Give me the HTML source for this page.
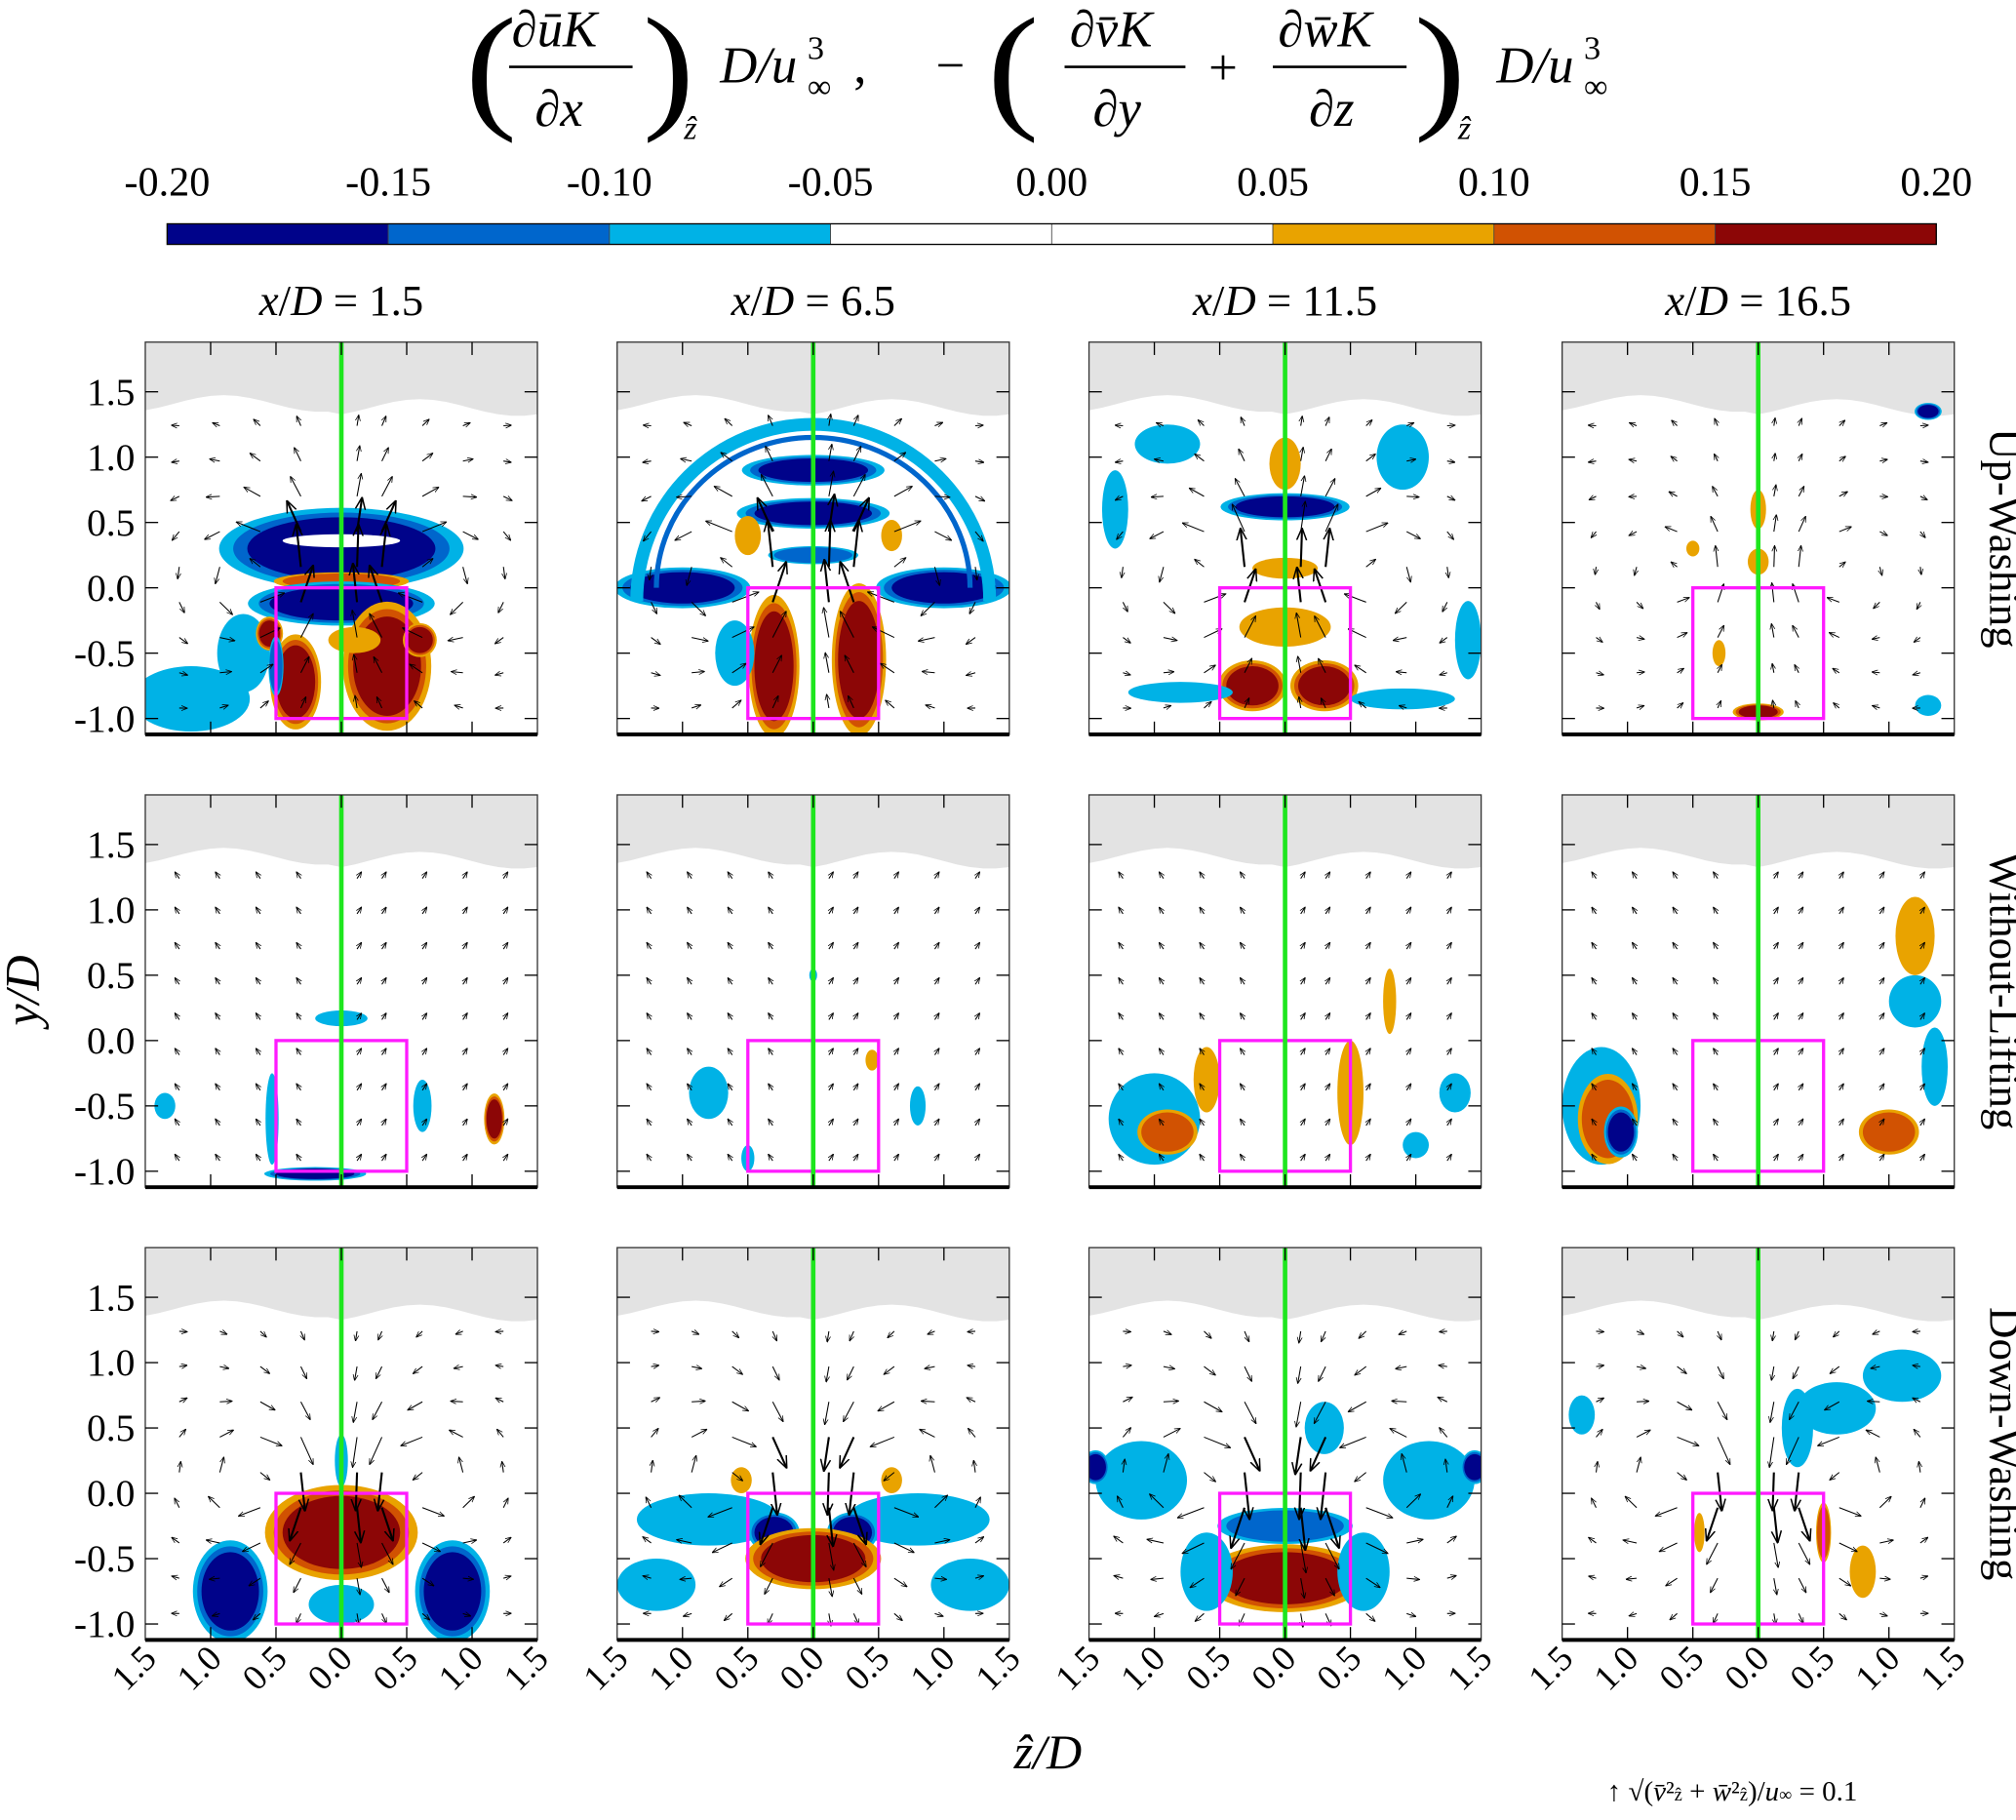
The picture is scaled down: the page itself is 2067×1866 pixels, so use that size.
<!DOCTYPE html>
<html><head><meta charset="utf-8"><style>
html,body{margin:0;padding:0;background:#fff;}
svg{display:block;font-family:"Liberation Serif",serif;}
</style></head><body>
<svg id="fig" width="2067" height="1866" viewBox="0 0 1568 1415" preserveAspectRatio="none" xmlns="http://www.w3.org/2000/svg">
<defs>
<marker id="ah" viewBox="0 0 10 10" refX="9" refY="5" markerWidth="6" markerHeight="6" orient="auto"><path d="M0,1 L10,5 L0,9" fill="none" stroke="#000" stroke-width="1.2"/></marker>
</defs>
<g font-style="italic" font-size="40">
 <text x="362" y="98" font-size="120" font-style="normal" transform="scale(1,0.9)">(</text>
 <text x="398" y="36">∂ūK</text>
 <line x1="396" y1="52" x2="492" y2="52" stroke="#000" stroke-width="2"/>
 <text x="416" y="98">∂x</text>
 <text x="500" y="98" font-size="120" font-style="normal" transform="scale(1,0.9)">)</text>
 <text x="532" y="108" font-size="26">ẑ</text>
 <text x="560" y="64">D/u</text><text x="628" y="46" font-size="26" font-style="normal">3</text><text x="628" y="76" font-size="26" font-style="normal">∞</text><text x="664" y="64" font-style="normal">,</text>
 <text x="728" y="64" font-style="normal">−</text>
 <text x="768" y="98" font-size="120" font-style="normal" transform="scale(1,0.9)">(</text>
 <text x="832" y="36">∂v̄K</text>
 <line x1="828" y1="52" x2="922" y2="52" stroke="#000" stroke-width="2"/>
 <text x="850" y="98">∂y</text>
 <text x="940" y="66" font-style="normal">+</text>
 <text x="994" y="36">∂w̄K</text>
 <line x1="990" y1="52" x2="1094" y2="52" stroke="#000" stroke-width="2"/>
 <text x="1018" y="98">∂z</text>
 <text x="1100" y="98" font-size="120" font-style="normal" transform="scale(1,0.9)">)</text>
 <text x="1134" y="108" font-size="26">ẑ</text>
 <text x="1164" y="64">D/u</text><text x="1232" y="46" font-size="26" font-style="normal">3</text><text x="1232" y="76" font-size="26" font-style="normal">∞</text>
</g>
<g id="cbar"></g>
<g id="panels"></g>
<g id="labels"></g>
</svg>
<script>
const NS="http://www.w3.org/2000/svg";
const svg=document.getElementById('fig');
function el(tag,attrs,parent){const e=document.createElementNS(NS,tag);for(const k in attrs)e.setAttribute(k,attrs[k]);(parent||svg).appendChild(e);return e;}

const cbTicks=["-0.20","-0.15","-0.10","-0.05","0.00","0.05","0.10","0.15","0.20"];
const cbColors=["#00038a","#0066cc","#00b2e6","#ffffff","#ffffff","#e9a300","#d15202","#8c0606"];
const negC=["#00b2e6","#0066cc","#00038a"], posC=["#e9a300","#d15202","#8c0606"];
const cb=document.getElementById('cbar');
const cbX0=130,cbX1=1506,cbW=(cbX1-cbX0)/8;
cbColors.forEach((c,i)=>{const r=el('rect',{x:cbX0+i*cbW,y:174,width:cbW,height:16,fill:c,stroke:'#444','stroke-width':0.6},cb);
});
el('rect',{x:cbX0,y:174,width:cbX1-cbX0,height:16,fill:'none',stroke:'#000','stroke-width':1},cb);
cbTicks.forEach((t,i)=>{const tx=el('text',{x:cbX0+i*cbW,y:152,'font-size':32,'text-anchor':'middle'},cb);tx.textContent=t;
});

const colTitles=["1.5","6.5","11.5","16.5"];
const rowTitles=["Up-Washing","Without-Lifting","Down-Washing"];
const X0=[113,480,847,1215], Y0=[266,618,970], W=305, H=305;
const yTicks=[-1.0,-0.5,0.0,0.5,1.0,1.5];
const zTicks=[-1.5,-1.0,-0.5,0.0,0.5,1.0,1.5];
const blobs=[
 [[-1.15,-0.85,0.45,0.25,-1,1],[-0.75,-0.5,0.2,0.3,-1,1],[0,0.3,0.72,0.24,-1,3],[0,0.36,0.45,0.05,-1,0],[0,0.05,0.45,0.06,1,2],[0,-0.12,0.55,0.13,-1,3],
  [-0.35,-0.72,0.15,0.28,1,3],[-0.55,-0.35,0.08,0.1,1,3],[0.35,-0.6,0.26,0.38,1,3],[0.6,-0.4,0.1,0.1,1,3],[0.1,-0.4,0.2,0.1,1,1],[-0.5,-0.6,0.05,0.2,-1,2]],
 [[0,0.9,0.42,0.09,-1,3],[0,0.57,0.45,0.09,-1,3],[0,0.25,0.3,0.06,-1,2],[-1.0,0,0.4,0.12,-1,3],[1.0,0,0.4,0.12,-1,3],
  [-0.3,-0.6,0.15,0.42,1,3],[0.35,-0.55,0.16,0.45,1,3],[-0.5,0.4,0.1,0.15,1,1],[0.6,0.4,0.08,0.12,1,1],[-0.6,-0.5,0.15,0.25,-1,1]],
 [[0,0.62,0.38,0.08,-1,3],[0,0.95,0.12,0.2,1,1],[-0.9,1.1,0.25,0.15,-1,1],[0.9,1.0,0.2,0.25,-1,1],[1.4,-0.4,0.1,0.3,-1,1],
  [-1.3,0.6,0.1,0.3,-1,1],[-0.25,-0.75,0.2,0.15,1,3],[0.3,-0.75,0.2,0.15,1,3],[0,-0.3,0.35,0.15,1,1],[-0.8,-0.8,0.4,0.08,-1,1],[0.9,-0.85,0.4,0.08,-1,1],[0,0.15,0.25,0.08,1,1]],
 [[0,-0.95,0.15,0.05,1,3],[0,0.6,0.06,0.15,1,1],[0,0.2,0.08,0.1,1,1],[-0.3,-0.5,0.05,0.1,1,1],[1.3,-0.9,0.1,0.08,-1,1],[-0.5,0.3,0.05,0.06,1,1],[1.3,1.35,0.08,0.05,-1,3]],
 [[0,0.17,0.2,0.06,-1,1],[-0.53,-0.6,0.05,0.35,-1,1],[0.62,-0.5,0.07,0.2,-1,1],[-0.2,-1.02,0.3,0.04,-1,3],[1.17,-0.6,0.06,0.15,1,3],[-1.35,-0.5,0.08,0.1,-1,1]],
 [[-0.8,-0.4,0.15,0.2,-1,1],[0.8,-0.5,0.06,0.15,-1,1],[-0.5,-0.9,0.05,0.1,-1,1],[0.45,-0.15,0.05,0.08,1,1],[0,0.5,0.03,0.05,-1,1]],
 [[-1.0,-0.6,0.35,0.35,-1,1],[-0.9,-0.7,0.2,0.15,1,2],[-0.6,-0.3,0.1,0.25,1,1],[0.5,-0.4,0.1,0.4,1,1],[1.3,-0.4,0.12,0.15,-1,1],[0.8,0.3,0.05,0.25,1,1],[1.0,-0.8,0.1,0.1,-1,1]],
 [[-1.2,-0.5,0.3,0.45,-1,1],[-1.15,-0.6,0.2,0.3,1,2],[-1.05,-0.7,0.1,0.15,-1,3],[1.2,0.3,0.2,0.2,-1,1],[1.0,-0.7,0.2,0.15,1,2],[1.35,-0.2,0.1,0.3,-1,1],[1.2,0.8,0.15,0.3,1,1]],
 [[-0.85,-0.75,0.22,0.3,-1,3],[0.85,-0.75,0.22,0.3,-1,3],[0,-0.3,0.45,0.28,1,3],[0,0.25,0.05,0.2,-1,1],[0,-0.85,0.25,0.15,-1,1]],
 [[-0.8,-0.2,0.55,0.2,-1,1],[0.8,-0.2,0.55,0.2,-1,1],[-0.3,-0.3,0.15,0.12,-1,3],[0.3,-0.3,0.15,0.12,-1,3],[0,-0.5,0.4,0.18,1,3],[-1.2,-0.7,0.3,0.2,-1,1],[1.2,-0.7,0.3,0.2,-1,1],[-0.55,0.1,0.08,0.1,1,1],[0.6,0.1,0.08,0.1,1,1]],
 [[-1.1,0.1,0.35,0.3,-1,1],[1.1,0.1,0.35,0.3,-1,1],[-1.45,0.2,0.08,0.1,-1,3],[1.45,0.2,0.08,0.1,-1,3],[0,-0.25,0.45,0.12,-1,2],[0,-0.65,0.48,0.2,1,3],[-0.6,-0.6,0.2,0.3,-1,1],[0.6,-0.6,0.2,0.3,-1,1],[0.3,0.5,0.15,0.2,-1,1]],
 [[0.6,0.65,0.3,0.2,-1,1],[1.1,0.9,0.3,0.2,-1,1],[0.3,0.5,0.12,0.3,-1,1],[-0.45,-0.3,0.04,0.15,1,1],[0.5,-0.3,0.05,0.2,1,2],[-1.35,0.6,0.1,0.15,-1,1],[0.8,-0.6,0.1,0.2,1,1]]
];
const flowMode=[1,1,1,1,0,0,0,0,-1,-1,-1,-1];
const flowStrength=[1,1.1,0.9,0.5,0.15,0.12,0.15,0.2,0.9,1.0,1.1,0.9];

const P=document.getElementById('panels');
for(let r=0;r<3;r++)for(let c=0;c<4;c++){
 const idx=r*4+c, x0=X0[c], y0=Y0[r];
 const sx=z=>x0+(z+1.5)/3*W, sy=y=>y0+(1.88-y)*101.6;
 const g=el('g',{},P);
 
 
 const cid='clip'+idx;
 const cp=el('clipPath',{id:cid},g);el('rect',{x:x0,y:y0,width:W,height:H},cp);
 const inner=el('g',{'clip-path':'url(#'+cid+')'},g);
 el('rect',{x:x0,y:y0,width:W,height:H,fill:'#fff'},inner);
 let d='M'+x0+','+y0;
 for(let i=0;i<=30;i++){const z=-1.5+i*0.1;const yy=1.38+0.08*Math.cos((z+0.9)*Math.PI/0.75)*0.8+(z<0?0.03:0);d+=' L'+sx(z).toFixed(1)+','+sy(yy).toFixed(1);}
 d+=' L'+(x0+W)+','+y0+' Z';
 const gr=el('path',{d:d,fill:'#e3e3e3'},inner);
 
 blobs[idx].forEach(b=>{
  const [z,y,rx,ry,s,lv]=b, cols=s<0?negC:posC;
  if(lv===0){el('ellipse',{cx:sx(z),cy:sy(y),rx:rx*101.6,ry:ry*101.6,fill:'#fff'},inner);return;}
  for(let l=1;l<=lv;l++){const f=1+0.15*(lv-l);
   const e=el('ellipse',{cx:sx(z),cy:sy(y),rx:rx*101.6*f,ry:ry*101.6*f,fill:cols[l-1]},inner);
   }
 });
 if(idx===1){const a=el('path',{d:'M'+sx(-1.35)+','+sy(-0.1)+' A'+(1.35*101.6)+','+(1.35*101.6)+' 0 0 1 '+sx(1.35)+','+sy(-0.1),fill:'none',stroke:'#00b2e6','stroke-width':10},inner);
  
  el('path',{d:'M'+sx(-1.2)+','+sy(0)+' A'+(1.2*101.6)+','+(1.15*101.6)+' 0 0 1 '+sx(1.2)+','+sy(0),fill:'none',stroke:'#0066cc','stroke-width':4},inner);}
 const m=flowMode[idx], st=flowStrength[idx];
 for(let zi=-4;zi<=4;zi++)for(let yi=0;yi<9;yi++){
  const z=zi*0.31+(zi===0?0.12:0), y=-0.92+yi*0.27;
  let u=0,v=0;
  [[-0.6,0.1,1],[0.6,0.1,-1]].forEach(([cz,cy,sg])=>{const dx=z-cz,dy=y-cy,r2=dx*dx+dy*dy+0.08;u+=-dy*sg/r2*0.12;v+=dx*sg/r2*0.12;});
  if(m===-1){u=-u;v=-v;} if(m===0){u=0.02*Math.sign(z);v=0.03;}
  let L=Math.hypot(u,v)*st*100; if(L>55)L=55; if(L<6)L=6;
  const ang=Math.atan2(v,u), px=sx(z), py=sy(y);
  const ln=el('line',{x1:px,y1:py,x2:px+L*Math.cos(ang),y2:py-L*Math.sin(ang),stroke:'#000','stroke-width':L>25?1.6:0.8,'marker-end':'url(#ah)'},inner);
  
 }
 const bx=el('rect',{x:sx(-0.5),y:sy(0),width:sx(0.5)-sx(-0.5),height:sy(-1)-sy(0),fill:'none',stroke:'#ff1aff','stroke-width':2.5},inner);
 
 const cl=el('line',{x1:sx(0),y1:y0,x2:sx(0),y2:y0+H,stroke:'#1ee61e','stroke-width':3.5},inner);
 
 el('rect',{x:x0,y:y0,width:W,height:H,fill:'none',stroke:'#333','stroke-width':1},g);
 el('line',{x1:x0,y1:y0+H,x2:x0+W,y2:y0+H,stroke:'#000','stroke-width':3},g);
 zTicks.slice(1,-1).forEach(t=>{el('line',{x1:sx(t),y1:y0,x2:sx(t),y2:y0+10,stroke:'#000'},g);el('line',{x1:sx(t),y1:y0+H,x2:sx(t),y2:y0+H-10,stroke:'#000'},g);});
 yTicks.forEach(t=>{el('line',{x1:x0,y1:sy(t),x2:x0+10,y2:sy(t),stroke:'#000'},g);el('line',{x1:x0+W,y1:sy(t),x2:x0+W-10,y2:sy(t),stroke:'#000'},g);
  if(c===0){const tx=el('text',{x:x0-8,y:sy(t)+10,'font-size':30,'text-anchor':'end'},g);tx.textContent=t.toFixed(1);
   }});
 if(r===2) zTicks.forEach(t=>{const xx=sx(t)+10,yy=y0+H+16;const tx=el('text',{x:xx,y:yy,'font-size':28,'text-anchor':'end',transform:'rotate(-45 '+xx+' '+yy+')'},g);
   tx.textContent=Math.abs(t).toFixed(1);});
 if(r===0){const tt=el('text',{x:x0+W/2,y:245,'font-size':34,'text-anchor':'middle'},g);
  tt.innerHTML='<tspan font-style="italic">x</tspan>/<tspan font-style="italic">D</tspan> = '+colTitles[c];
  }
 if(c===3){const cx=1548,cy=y0+H/2;const tt=el('text',{x:cx,y:cy,'font-size':34,'text-anchor':'middle',transform:'rotate(90 '+cx+' '+cy+')'},g);
  tt.textContent=rowTitles[r];}
}
const L=document.getElementById('labels');
const yl=el('text',{x:30,y:770,'font-size':38,'font-style':'italic','text-anchor':'middle',transform:'rotate(-90 30 770)'},L);
yl.textContent='y/D';
const xl=el('text',{x:815,y:1375,'font-size':38,'font-style':'italic','text-anchor':'middle'},L);
xl.textContent='ẑ/D';
const lg=el('text',{x:1250,y:1400,'font-size':22},L);
lg.innerHTML='↑  √(<tspan font-style="italic">v̄</tspan>²<tspan font-size="14">ẑ</tspan> + <tspan font-style="italic">w̄</tspan>²<tspan font-size="14">ẑ</tspan>)/<tspan font-style="italic">u</tspan><tspan font-size="14">∞</tspan> = 0.1';

</script>
</body></html>
